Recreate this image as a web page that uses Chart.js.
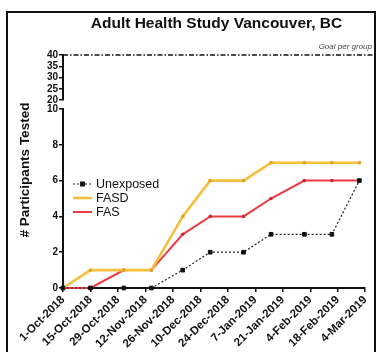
<!DOCTYPE html>
<html>
<head>
<meta charset="utf-8">
<script src="https://cdn.jsdelivr.net/npm/chart.js@4.4.1/dist/chart.umd.min.js"></script>
<style>
  html, body { margin: 0; padding: 0; background: #fff; }
  #wrap { position: relative; width: 376px; height: 352px; overflow: hidden; background: #fff;
          font-family: "Liberation Sans", Arial, sans-serif; color: #111; }
  #frame { position: absolute; left: 6px; top: 11px; width: 366px; height: 400px;
           border-left: 2px solid #111; border-top: 2px solid #111; border-right: 2px solid #111; }
  canvas { position: absolute; left: 0; top: 0; }
  #title { position: absolute; left: 63px; width: 307px; top: 14px; text-align: center;
           font-weight: bold; font-size: 15.5px; line-height: 18px; }
  #ytitle { position: absolute; left: 25px; top: 170px; width: 200px; margin-left: -100px; margin-top: -9px;
            text-align: center; font-weight: bold; font-size: 13.5px; line-height: 18px;
            transform: rotate(-90deg); }
  #goal { position: absolute; right: 4px; top: 42px; font-style: italic; font-size: 8px; color: #444; }
</style>
</head>
<body>
<div id="wrap">
  <div id="frame"></div>
  <canvas id="upper" width="376" height="352"></canvas>
  <canvas id="lower" width="376" height="352"></canvas>
  <div id="title">Adult Health Study Vancouver, BC</div>
  <div id="ytitle"># Participants Tested</div>
  <div id="goal">Goal per group</div>
</div>
<script>
// Testing dates (twice monthly) and cumulative participants per group
const testDates = ['2018-10-01', '2018-10-15', '2018-11-01', '2018-11-15', '2018-12-01', '2018-12-15',
                   '2019-01-01', '2019-01-15', '2019-02-01', '2019-02-15', '2019-03-01'];
const unexposed = [0, 0, 0, 0, 1, 2, 2, 3, 3, 3, 6];
const fasd      = [0, 1, 1, 1, 4, 6, 6, 7, 7, 7, 7];
const fas       = [0, 0, 1, 1, 3, 4, 4, 5, 6, 6, 6];

// X axis ticks every 14 days starting 1-Oct-2018
const tickLabels = ['1-Oct-2018', '15-Oct-2018', '29-Oct-2018', '12-Nov-2018', '26-Nov-2018', '10-Dec-2018',
                    '24-Dec-2018', '7-Jan-2019', '21-Jan-2019', '4-Feb-2019', '18-Feb-2019', '4-Mar-2019'];
const goalPerGroup = 40;

const startDate = Date.UTC(2018, 9, 1);
const dayOf = s => {
  const [y, m, d] = s.split('-').map(Number);
  return Math.round((Date.UTC(y, m - 1, d) - startDate) / 86400000);
};
const days = testDates.map(dayOf);
const pts = vals => vals.map((v, i) => ({ x: days[i], y: v }));

const INK = '#111';
const AXIS_W = 63;
const tickFont = { family: '"Liberation Sans", Arial, sans-serif', weight: 'bold', size: 10 };
const xFont = { family: '"Liberation Sans", Arial, sans-serif', weight: 'bold', size: 11.5 };

// Upper segment of the broken y axis: 20-40 with the goal line
const upperMax = 158;
new Chart(document.getElementById('upper'), {
  type: 'line',
  data: {
    datasets: [{
      label: 'Goal per group',
      data: [{ x: 0, y: goalPerGroup }, { x: upperMax, y: goalPerGroup }],
      borderColor: INK, borderWidth: 1.4, borderDash: [5, 2, 1.5, 2],
      pointRadius: 0, clip: false
    }]
  },
  options: {
    responsive: false, animation: false,
    layout: { padding: { top: 55, bottom: 252, left: 0, right: 1 } },
    plugins: { legend: { display: false }, tooltip: { enabled: false } },
    scales: {
      x: { type: 'linear', display: false, min: 0, max: upperMax },
      y: {
        min: 20, max: 40,
        ticks: { stepSize: 5, autoSkip: false, font: tickFont, color: INK, padding: 1 },
        grid: { drawOnChartArea: false, tickLength: 4, color: INK, lineWidth: 1.5 },
        border: { color: INK, width: 2 },
        afterFit: s => { s.width = AXIS_W; }
      }
    }
  }
});

// Legend drawn inside the plot area
const innerLegend = {
  id: 'innerLegend',
  afterDatasetsDraw(chart) {
    const ctx = chart.ctx;
    const x0 = 73, x1 = 92, tx = 96, y0 = 184, step = 14;
    chart.data.datasets.forEach((ds, i) => {
      const y = y0 + i * step;
      ctx.save();
      ctx.strokeStyle = ds.borderColor;
      ctx.lineWidth = ds.borderWidth;
      ctx.setLineDash(ds.borderDash || []);
      ctx.beginPath(); ctx.moveTo(x0, y); ctx.lineTo(x1, y); ctx.stroke();
      ctx.setLineDash([]);
      if (ds.pointStyle === 'rect') {
        ctx.fillStyle = ds.pointBackgroundColor;
        ctx.strokeStyle = ds.pointBorderColor;
        Chart.helpers.drawPoint(ctx, {
          pointStyle: ds.pointStyle, radius: ds.pointRadius, rotation: 0, borderWidth: 1
        }, (x0 + x1) / 2, y);
      }
      ctx.fillStyle = INK;
      ctx.font = '12.5px "Liberation Sans", Arial, sans-serif';
      ctx.textBaseline = 'middle';
      ctx.fillText(ds.label, tx, y + 0.5);
      ctx.restore();
    });
  }
};

// Lower segment: 0-10 with the three groups
new Chart(document.getElementById('lower'), {
  type: 'line',
  data: {
    datasets: [
      { label: 'Unexposed', data: pts(unexposed), borderColor: '#222', backgroundColor: '#111',
        borderWidth: 1.2, borderDash: [2, 2], pointStyle: 'rect', pointRadius: 2.6,
        pointBorderWidth: 1, pointBorderColor: '#111', pointBackgroundColor: '#111', clip: false },
      { label: 'FASD', data: pts(fasd), borderColor: '#F6C03E', backgroundColor: '#EDB23A',
        borderWidth: 2.6, pointStyle: 'circle', pointRadius: 1.9, pointBorderWidth: 0,
        pointBorderColor: '#E2A52E', pointBackgroundColor: '#E2A52E', clip: false },
      { label: 'FAS', data: pts(fas), borderColor: '#EC3A42', backgroundColor: '#D8303A',
        borderWidth: 2, pointStyle: 'circle', pointRadius: 1.8, pointBorderWidth: 0,
        pointBorderColor: '#C92A33', pointBackgroundColor: '#C92A33', clip: false }
    ]
  },
  options: {
    responsive: false, animation: false,
    layout: { padding: { top: 109, bottom: 0, left: 0, right: 9 } },
    plugins: { legend: { display: false }, tooltip: { enabled: false } },
    elements: { line: { tension: 0 } },
    scales: {
      x: {
        type: 'linear', min: 0, max: 154,
        ticks: {
          stepSize: 14, autoSkip: false, maxRotation: 45, minRotation: 45,
          font: xFont, color: INK, padding: 1,
          callback: (v, i) => tickLabels[i]
        },
        grid: { drawOnChartArea: false, tickLength: 4, color: INK, lineWidth: 1.5 },
        border: { color: INK, width: 2 },
        afterFit: s => { s.height = 64; }
      },
      y: {
        min: 0, max: 10,
        ticks: { stepSize: 2, font: tickFont, color: INK, padding: 1 },
        grid: { drawOnChartArea: false, tickLength: 4, color: INK, lineWidth: 1.5 },
        border: { color: INK, width: 2 },
        afterFit: s => { s.width = AXIS_W; }
      }
    }
  },
  plugins: [innerLegend]
});
</script>
</body>
</html>
